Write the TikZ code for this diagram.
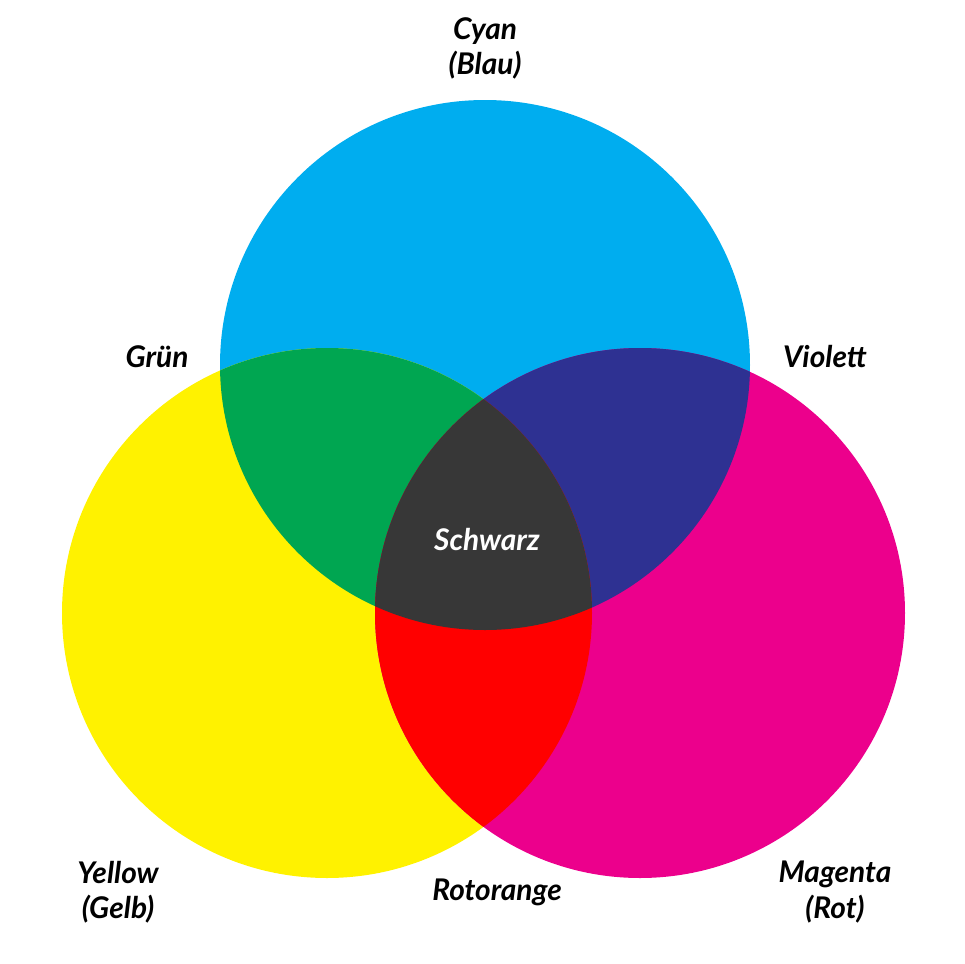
\documentclass[tikz,border=0pt]{standalone}
\usepackage{fontspec}
\setmainfont{Lato}
\definecolor{cyanc}{HTML}{00ADEF}
\definecolor{yellowc}{HTML}{FFF200}
\definecolor{magentac}{HTML}{EC008C}
\definecolor{greenc}{HTML}{00A651}
\definecolor{violetc}{HTML}{2E3192}
\definecolor{redc}{HTML}{FF0000}
\definecolor{blackc}{HTML}{373737}
\tikzset{
	lbl/.style={font=\fontsize{17}{20}\selectfont\bfseries\itshape, align=center, inner sep=0pt},
}
\begin{document}
\begin{tikzpicture}[x=0.02cm, y=-0.02cm]
		\useasboundingbox (0,0) rectangle (965,964);
		% the three circles
		\fill[cyanc] (485,365) circle [radius=265];
		\fill[yellowc] (327,613) circle [radius=265];
		\fill[magentac] (640,613) circle [radius=265];

		% pairwise overlaps
		\begin{scope}
			\clip (485,365) circle [radius=265];
			\fill[greenc] (327,613) circle [radius=265];
			\fill[violetc] (640,613) circle [radius=265];
		\end{scope}
		\begin{scope}
			\clip (327,613) circle [radius=265];
			\fill[redc] (640,613) circle [radius=265];
			\clip (485,365) circle [radius=265];
			\fill[blackc] (640,613) circle [radius=265];
		\end{scope}

		% labels
		\node[lbl] (cyan) at (485,48) {Cyan\\(Blau)};
		\node[lbl] (gruen) at (157,357) {Grün};
		\node[lbl] (violett) at (825,357) {Violett};
		\node[lbl, white] (schwarz) at (487,540) {Schwarz};
		\node[lbl] (yellow) at (118,892) {Yellow\\(Gelb)};
		\node[lbl] (rotorange) at (497,892) {Rotorange};
		\node[lbl] (magenta) at (835,892) {Magenta\\(Rot)};
	\end{tikzpicture}
\end{document}
